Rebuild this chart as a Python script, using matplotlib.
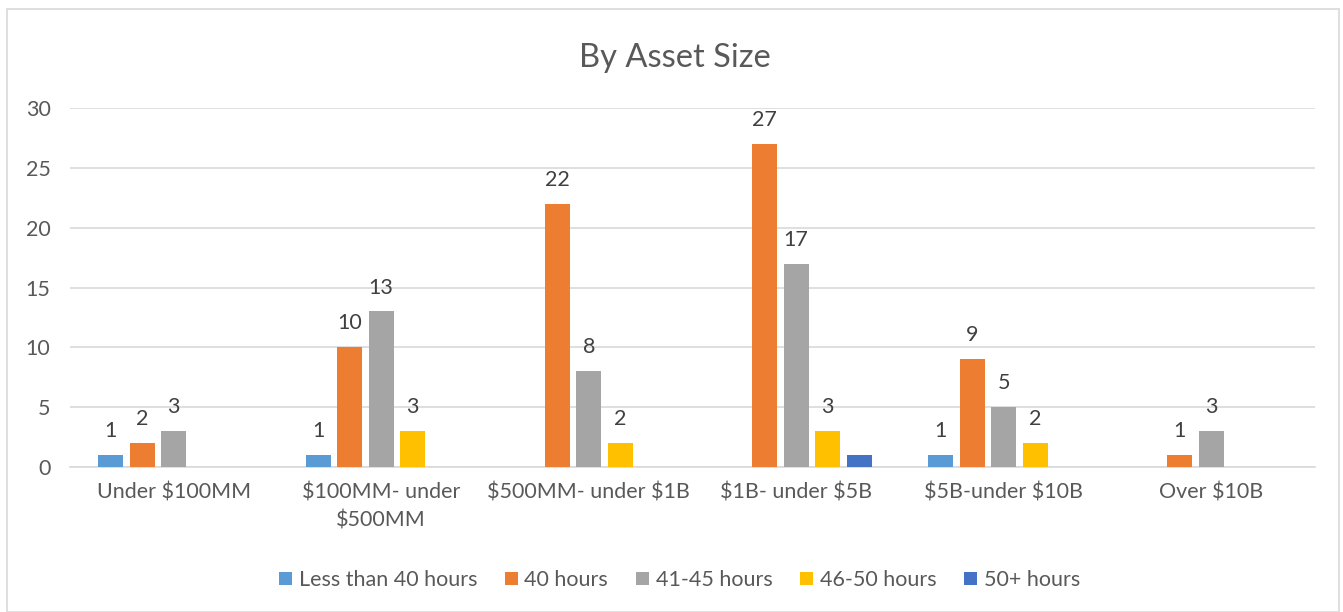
import numpy as np
import matplotlib
matplotlib.use('Agg')
import matplotlib.pyplot as plt
from matplotlib.patches import Rectangle

categories = ['Under $100MM', '$100MM- under\n$500MM', '$500MM- under $1B',
              '$1B- under $5B', '$5B-under $10B', 'Over $10B']
series_names = ['Less than 40 hours', '40 hours', '41-45 hours', '46-50 hours', '50+ hours']
less_than_40 = [1, 1, 0, 0, 1, 0]
h40 = [2, 10, 22, 27, 9, 1]
h41_45 = [3, 13, 8, 17, 5, 3]
h46_50 = [0, 3, 2, 3, 2, 0]
h50_plus = [0, 0, 0, 1, 0, 0]
show_labels = [True, True, True, True, False]

colors = ['#5B9BD5', '#ED7D31', '#A5A5A5', '#FFC000', '#4472C4']
text_color = '#595959'
grid_color = '#D9D9D9'

plt.rcParams['font.family'] = ['Lato', 'DejaVu Sans']
plt.rcParams['text.parse_math'] = False

fig = plt.figure(figsize=(13.43, 6.12), dpi=100)
fig.patches.append(Rectangle((0.005, 0.0), 0.992, 0.985, transform=fig.transFigure,
                             fill=False, edgecolor=grid_color, linewidth=1.2))
ax = fig.add_axes([0.0521, 0.2369, 0.9270, 0.5866])

x = np.arange(len(categories))
all_series = [less_than_40, h40, h41_45, h46_50, h50_plus]
pitch = 0.152
width = 0.12
for i, vals in enumerate(all_series):
    offs = x + (i - 2) * pitch
    bars = ax.bar(offs, vals, width, color=colors[i], label=series_names[i], zorder=3)
    if show_labels[i]:
        for b, v in zip(bars, vals):
            if v > 0:
                ax.annotate(str(v), (b.get_x() + b.get_width() / 2, v),
                            xytext=(0, 10), textcoords='offset points',
                            ha='center', va='bottom', fontsize=15.5, color='#404040')

ax.set_xlim(-0.5, len(categories) - 0.5)
ax.set_ylim(0, 30)
ax.set_yticks(range(0, 31, 5))
ax.set_xticks(x)
ax.set_xticklabels(categories, linespacing=1.5)
ax.tick_params(axis='both', length=0, labelsize=15.5, colors=text_color)
ax.tick_params(axis='y', pad=14)
ax.tick_params(axis='x', pad=11)
ax.grid(axis='y', color=grid_color, linewidth=1.2, zorder=0)
for s in ['top', 'right', 'left']:
    ax.spines[s].set_visible(False)
ax.spines['bottom'].set_color(grid_color)
ax.spines['bottom'].set_linewidth(1.2)

fig.text(0.5025, 0.905, 'By Asset Size', ha='center', va='center', fontsize=23.5, color=text_color)

fig.legend(loc='center', bbox_to_anchor=(0.506, 0.052), ncol=5, frameon=False,
           fontsize=15.5, handlelength=0.6, handleheight=0.6, handletextpad=0.3,
           columnspacing=1.3, labelcolor=text_color)

fig.savefig('out.png', dpi=100)
